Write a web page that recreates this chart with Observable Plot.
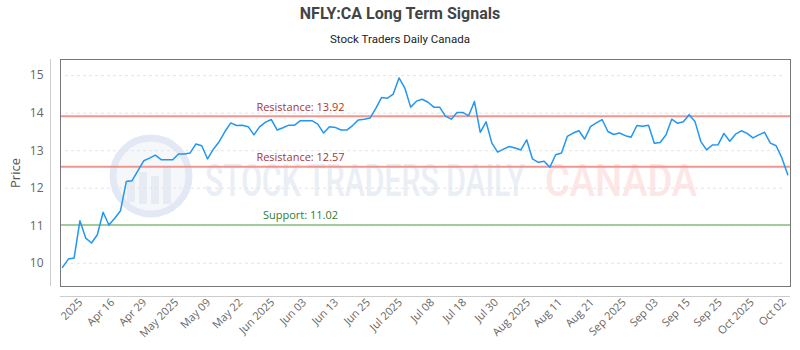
<!DOCTYPE html>
<html><head><meta charset="utf-8">
<script src="https://cdn.jsdelivr.net/npm/d3@7"></script>
<script src="https://cdn.jsdelivr.net/npm/@observablehq/plot@0.6"></script>
<style>
body{margin:0;background:#fff;}
#wrap{position:relative;width:800px;height:350px;overflow:hidden;}
#title{position:absolute;left:0;width:800px;top:4px;text-align:center;font:bold 16px Roboto,sans-serif;color:#444;}
#subtitle{position:absolute;left:0;width:800px;top:32px;text-align:center;font:11.5px Roboto,sans-serif;color:#222;}
#wm{position:absolute;left:0;top:0;z-index:0;}
#chart{position:absolute;left:0;top:0;z-index:1;}
</style></head><body>
<div id="wrap">
<svg id="wm" width="800" height="350">
  <circle cx="151" cy="176" r="38" fill="#f5f7fb" stroke="#e3e9f4" stroke-width="7"/>
  <g fill="#e6ebf4">
    <rect x="127" y="180" width="8" height="22"/>
    <rect x="139" y="172" width="8" height="32"/>
    <rect x="151" y="176" width="8" height="28"/>
    <rect x="163" y="166" width="8" height="38"/>
  </g>
  <text x="205" y="196" font-family="Roboto, sans-serif" font-weight="500" font-size="44" fill="#eaeef5" textLength="320" lengthAdjust="spacingAndGlyphs">STOCK TRADERS DAILY</text>
  <text x="545" y="196" font-family="Roboto, sans-serif" font-weight="500" font-size="44" fill="#fde6e6" textLength="152" lengthAdjust="spacingAndGlyphs">CANADA</text>
</svg>
<div id="chart"></div>
<div id="title">NFLY:CA Long Term Signals</div>
<div id="subtitle">Stock Traders Daily Canada</div>
</div>
<script>
const prices = [
  9.89, 10.11, 10.14, 11.13, 10.67, 10.54, 10.76, 11.36, 11.02, 11.20,
  11.40, 12.18, 12.20, 12.47, 12.73, 12.80, 12.88, 12.76, 12.76, 12.76,
  12.91, 12.91, 12.94, 13.18, 13.13, 12.78, 13.04, 13.24, 13.51, 13.74,
  13.67, 13.68, 13.64, 13.42, 13.64, 13.76, 13.83, 13.55, 13.61, 13.68,
  13.68, 13.80, 13.80, 13.80, 13.71, 13.47, 13.64, 13.62, 13.55, 13.55,
  13.67, 13.82, 13.84, 13.87, 14.13, 14.42, 14.40, 14.51, 14.94, 14.67,
  14.16, 14.32, 14.37, 14.29, 14.16, 14.16, 13.92, 13.84, 14.02, 14.02,
  13.93, 14.31, 13.49, 13.77, 13.20, 12.96, 13.04, 13.11, 13.07, 13.02,
  13.29, 12.78, 12.69, 12.72, 12.56, 12.89, 12.94, 13.38, 13.47, 13.53,
  13.31, 13.64, 13.74, 13.83, 13.51, 13.43, 13.47, 13.40, 13.36, 13.67,
  13.65, 13.68, 13.20, 13.22, 13.42, 13.84, 13.73, 13.77, 13.96, 13.78,
  13.25, 13.02, 13.15, 13.16, 13.46, 13.25, 13.44, 13.53, 13.46, 13.34,
  13.42, 13.49, 13.20, 13.13, 12.80, 12.36
];
const xTickLabels = ["2025","Apr 16","Apr 29","May 2025","May 09","May 22","Jun 2025","Jun 03","Jun 13","Jun 25","Jul 2025","Jul 08","Jul 18","Jul 30","Aug 2025","Aug 11","Aug 21","Sep 2025","Sep 03","Sep 15","Sep 25","Oct 2025","Oct 02"];
const yTicks = [10, 11, 12, 13, 14, 15];
const resistanceLevels = [13.92, 12.57];
const supportLevels = [11.02];

const data = prices.map((p, i) => ({i, p}));
const n = prices.length;
const xDomain = [-0.345, n - 1 + 0.47];
const yDomain = [9.38, 15.43];
const tickStart = 3.15, tickStep = 5.51;
const tickPos = xTickLabels.map((_, k) => tickStart + k * tickStep);
const labelAt = new Map(tickPos.map((t, k) => [t, xTickLabels[k]]));

const chart = Plot.plot({
  width: 800, height: 350,
  marginTop: 59, marginBottom: 64, marginLeft: 60, marginRight: 10,
  style: {background: "transparent", fontFamily: "'Open Sans', sans-serif", overflow: "visible"},
  x: {domain: xDomain},
  y: {domain: yDomain},
  marks: [
    Plot.ruleY(yTicks, {stroke: "#e4e4e4", strokeDasharray: "3,3", insetLeft: 5, insetRight: 8}),
    Plot.ruleY(resistanceLevels, {stroke: "#ef8a84", strokeWidth: 2, strokeOpacity: 0.9}),
    Plot.ruleY(supportLevels, {stroke: "#93c993", strokeWidth: 2, strokeOpacity: 0.9}),
    Plot.text(resistanceLevels, {y: d => d, text: d => `Resistance: ${d.toFixed(2)}`, dx: -125, dy: -9, fill: "#a8362f", fontSize: 11}),
    Plot.text(supportLevels, {y: d => d, text: d => `Support: ${d.toFixed(2)}`, dx: -125, dy: -9, fill: "#2e7d32", fontSize: 11}),
    Plot.line(data, {x: "i", y: "p", stroke: "#2196f3", strokeWidth: 1.5}),
    Plot.frame({stroke: "#777"}),
    Plot.ruleY([yDomain[0]], {dy: 10, stroke: "#cccccc"}),
    Plot.ruleX([xDomain[0]], {dx: -10, stroke: "#cccccc"}),
    Plot.axisY(yTicks, {tickSize: 0, tickPadding: 17, fontSize: 12, fill: "#666", label: null}),
    Plot.axisY({label: "Price", labelAnchor: "center", labelOffset: 50, labelArrow: "none", ticks: [], tickSize: 0, fontSize: 13, fill: "#555"}),
    Plot.axisX(tickPos, {tickSize: 0, tickPadding: 14, tickRotate: -45, tickFormat: d => labelAt.get(d), fontSize: 11, fill: "#666", label: null})
  ]
});
document.getElementById("chart").appendChild(chart);
</script>
</body></html>
